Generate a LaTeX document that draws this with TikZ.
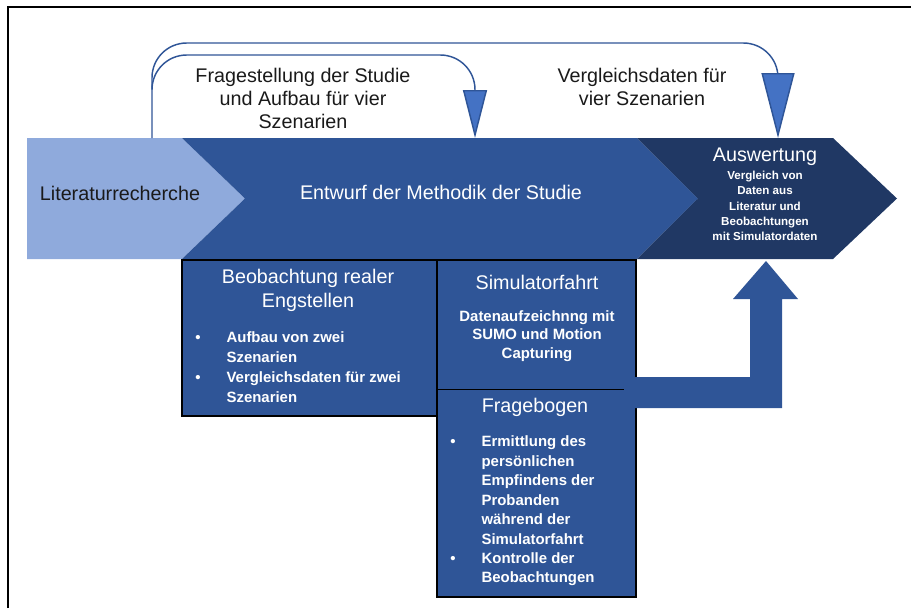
\documentclass[tikz,border=0pt]{standalone}
\usepackage{fontspec}
\setmainfont{Liberation Sans}
\usetikzlibrary{arrows.meta}
\definecolor{lightblue}{HTML}{8FAADC}
\definecolor{midblue}{HTML}{2F5597}
\definecolor{darkblue}{HTML}{203864}
\definecolor{tipblue}{HTML}{4472C4}
\definecolor{txt}{HTML}{1A1A1A}
\newcommand{\blitem}{\makebox[23.5pt][l]{\textbullet}}
\newcommand{\blcont}{\hspace*{23.5pt}}
\begin{document}
\begin{tikzpicture}[x=0.75pt,y=-0.75pt,
  bigtext/.style={font=\fontsize{14.8}{17.25}\selectfont, align=center, inner sep=0},
  boxtext/.style={font=\bfseries\fontsize{11.2}{14.6}\selectfont, align=left, inner sep=0, text=white},
  conn/.style={draw=midblue, line width=1.1pt, rounded corners=26},
  panel/.style={fill=midblue, draw=black, line width=0.9pt}]
\useasboundingbox (0,0) rectangle (911,608);

% outer frame
\draw[line width=1.8pt] (8,608) -- (8,7) -- (911,7);

% process chevrons
\fill[lightblue] (27,138) -- (182,138) -- (245,198.5) -- (182,259) -- (27,259) -- cycle;
\fill[midblue] (182,138) -- (637,138) -- (698,198.5) -- (637,259) -- (182,259) -- (245,198.5) -- cycle;
\fill[darkblue] (637,138) -- (833,138) -- (897,198.5) -- (833,259) -- (637,259) -- (698,198.5) -- cycle;

% anchor points of the feedback connectors
\coordinate (litTop) at (152,138);
\coordinate (branch) at (152,88);
\coordinate (methTop) at (475,138);
\coordinate (evalTop) at (778,138);
\coordinate (outerY) at (0,43);
\coordinate (innerY) at (0,55);

\draw[conn, -{Triangle[width=24.75pt,length=48.75pt,fill=tipblue]}]
  (litTop) |- (outerY -| evalTop) -- (evalTop);
\draw[conn, -{Triangle[width=18pt,length=36pt,fill=tipblue]}]
  (branch) |- (innerY -| methTop) -- (methTop);

% detail panels
\draw[panel] (182,260) rectangle (437,416);
\draw[panel] (437,260) rectangle (636,389.5);
\draw[panel] (437,389.5) rectangle (636,597);

% block arrow from the panels up to the evaluation
\fill[midblue] (624,377) -- (750,377) -- (750,299) -- (733,299) -- (766,261)
  -- (798,299) -- (782,299) -- (782,408) -- (624,408) -- cycle;

% labels
\node[bigtext, text=txt] (fragLbl) at (303,98) {Fragestellung der Studie\\und Aufbau für vier\\Szenarien};
\node[bigtext, text=txt] (vglLbl) at (642,87) {Vergleichsdaten für\\vier Szenarien};
\node[bigtext, text=txt] (lit) at (120,193) {Literaturrecherche};
\node[bigtext, text=white] (meth) at (441,192) {Entwurf der Methodik der Studie};
\node[bigtext, text=white] (eval) at (765,157) {Auswertung};
\node[font=\bfseries\fontsize{8.7}{11.5}\selectfont, align=center, inner sep=0, text=white]
  (evalSub) at (765,206) {Vergleich von\\Daten aus\\Literatur und\\Beobachtungen\\mit Simulatordaten};

\node[bigtext, text=white, font=\fontsize{14.8}{18}\selectfont] (beobT) at (308,290) {Beobachtung realer\\Engstellen};
\node[boxtext, anchor=west, font=\bfseries\fontsize{11.2}{15}\selectfont] (beobL) at (195,367)
  {\blitem Aufbau von zwei\\\blcont Szenarien\\\blitem Vergleichsdaten für zwei\\\blcont Szenarien};

\node[bigtext, text=white] (simT) at (537,282) {Simulatorfahrt};
\node[boxtext, align=center, font=\bfseries\fontsize{11.2}{13.9}\selectfont] (simL) at (537,336)
  {Datenaufzeichnng mit\\SUMO und Motion\\Capturing};

\node[bigtext, text=white] (fragT) at (535,407) {Fragebogen};
\node[boxtext, anchor=west] (fragL) at (450,511)
  {\blitem Ermittlung des\\\blcont persönlichen\\\blcont Empfindens der\\\blcont Probanden\\\blcont während der\\\blcont Simulatorfahrt\\\blitem Kontrolle der\\\blcont Beobachtungen};
\end{tikzpicture}
\end{document}
